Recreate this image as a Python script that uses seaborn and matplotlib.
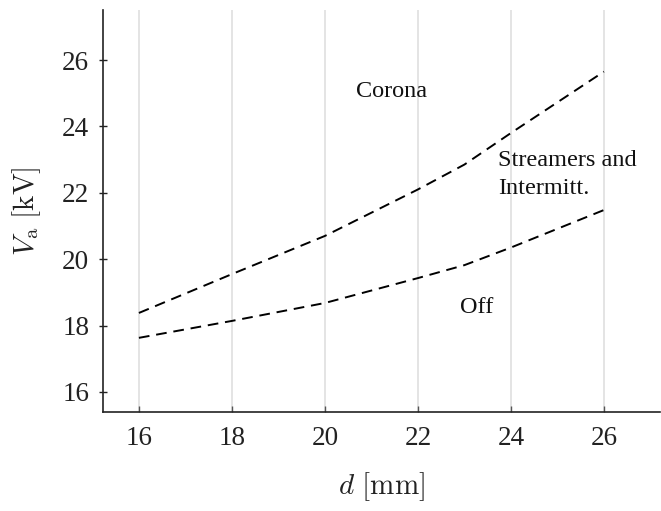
import numpy as np
import pandas as pd
import matplotlib
matplotlib.use("Agg")
import matplotlib.pyplot as plt
import seaborn as sns

# Gap distance [mm] and applied-voltage boundaries [kV]
gap_mm = [16, 18, 20, 22, 23, 24, 26]
corona_onset_kv = [18.38, 19.55, 20.70, 22.10, 22.85, 23.80, 25.65]
off_limit_kv = [17.63, 18.14, 18.68, 19.43, 19.82, 20.35, 21.48]

x_ticks = [16, 18, 20, 22, 24, 26]
y_ticks = [16, 18, 20, 22, 24, 26]

region_labels = ["Corona", "Streamers and\nIntermitt.", "Off"]
region_x = [21.44, 23.72, 23.27]
region_y = [25.04, 22.54, 18.53]

sns.set_theme(style="white")
plt.rcParams["font.family"] = ["Liberation Serif", "DejaVu Serif"]
plt.rcParams["mathtext.fontset"] = "cm"

df = pd.DataFrame({
    "d": gap_mm * 2,
    "V": corona_onset_kv + off_limit_kv,
    "boundary": ["upper"] * len(gap_mm) + ["lower"] * len(gap_mm),
})

fig = plt.figure(figsize=(6.61, 5.11), dpi=100)
ax = fig.add_axes([0.156, 0.194, 0.842, 0.786])

ax.set_xlim(15.23, 27.2)
ax.set_ylim(15.4, 27.5)
ax.set_xticks(x_ticks)
ax.set_yticks(y_ticks)
ax.grid(axis="x", color="#e2e2e2", linewidth=1.3)
ax.grid(axis="y", visible=False)
ax.set_axisbelow(True)

sns.lineplot(data=df, x="d", y="V", units="boundary", estimator=None,
             color="black", linewidth=1.4, ax=ax, legend=False)
for line in ax.get_lines():
    line.set_dashes((5.5, 3.5))

for s in ["top", "right"]:
    ax.spines[s].set_visible(False)
for s in ["left", "bottom"]:
    ax.spines[s].set_color("#222222")
    ax.spines[s].set_linewidth(1.2)

ax.tick_params(axis="y", direction="inout", length=6, width=1.0, color="#222222",
               labelsize=19.5, labelcolor="#222222", pad=7, left=True)
ax.tick_params(axis="x", direction="in", length=4, width=1.0, color="#555555",
               labelsize=19.5, labelcolor="#222222", pad=10, bottom=True)

ax.set_xlabel(r"$d\ [\mathrm{mm}]$", fontsize=21, color="#222222", labelpad=14)
ax.set_ylabel(r"$V_{\rm a}\ [\mathrm{kV}]$", fontsize=21, color="#222222", labelpad=14)

for txt, tx, ty in zip(region_labels, region_x, region_y):
    ax.text(tx, ty, txt, fontsize=17.5, color="#111111",
            ha="left" if "\n" in txt else "center", va="center",
            linespacing=1.45)

fig.savefig("out.png", dpi=100)
